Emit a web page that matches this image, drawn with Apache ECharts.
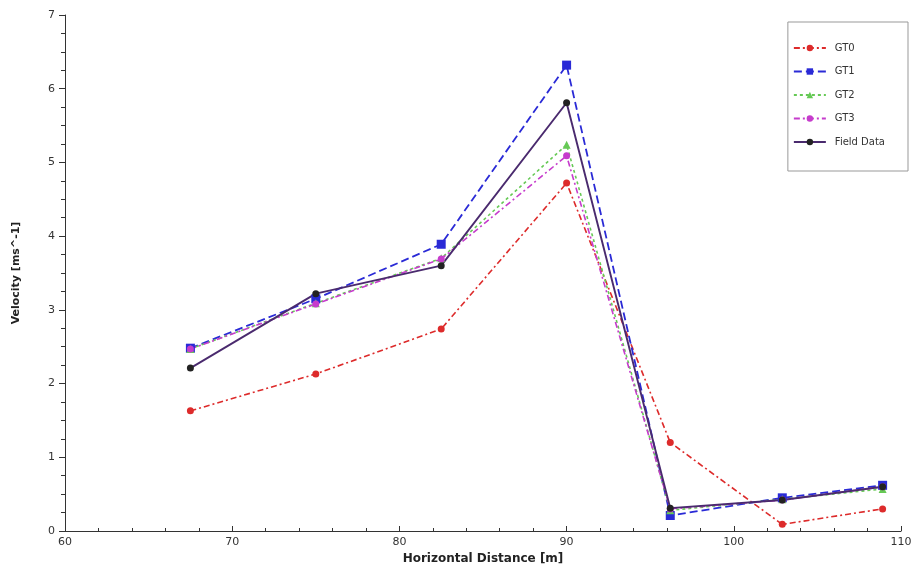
<!DOCTYPE html>
<html>
<head>
<meta charset="utf-8">
<script src="https://cdn.jsdelivr.net/npm/echarts@6/dist/echarts.min.js"></script>
<style>html,body{margin:0;padding:0;background:#fff}#c{width:917px;height:571px}</style>
</head>
<body>
<div id="c"></div>
<script>
var distances = [67.5, 75, 82.5, 90, 96.2, 102.9, 108.9];
var gt0 = [1.63, 2.13, 2.74, 4.72, 1.20, 0.09, 0.30];
var gt1 = [2.48, 3.15, 3.89, 6.32, 0.21, 0.45, 0.62];
var gt2 = [2.47, 3.09, 3.70, 5.24, 0.28, 0.43, 0.57];
var gt3 = [2.47, 3.08, 3.69, 5.09, 0.30, 0.42, 0.60];
var field = [2.21, 3.22, 3.60, 5.81, 0.31, 0.42, 0.60];
var names = ['GT0', 'GT1', 'GT2', 'GT3', 'Field Data'];

function pairs(v){ return distances.map(function(x,i){ return [x, v[i]]; }); }

var defs = [
  {name:names[0], data:gt0, color:'#dd2b2b', type:[6,3,2,3], symbol:'circle', size:7, width:1.6},
  {name:names[1], data:gt1, color:'#2a2ad6', type:[8,4], symbol:'rect', size:9, width:1.8},
  {name:names[2], data:gt2, color:'#66c955', type:[3,3], symbol:'triangle', size:8, width:1.6},
  {name:names[3], data:gt3, color:'#c63ccc', type:[6,3,2,3], symbol:'circle', size:7, width:1.6},
  {name:names[4], data:field, color:'#4a2a6e', type:'solid', symbol:'circle', size:7, width:1.9, markerColor:'#222222'}
];

var chart = echarts.init(document.getElementById('c'));
chart.setOption({
  backgroundColor:'#ffffff',
  animation:false,
  grid:{left:65, right:16, top:15, bottom:40},
  legend:{
    orient:'vertical', right:9, top:22,
    itemWidth:32, itemHeight:8, itemGap:13.5,
    padding:[21,23,24,5],
    borderColor:'#999', borderWidth:1,
    textStyle:{fontFamily:'DejaVu Sans', fontSize:10, color:'#333', padding:[0,0,0,4]},
    data:names
  },
  xAxis:{
    type:'value', min:60, max:110, interval:10,
    name:'Horizontal Distance [m]', nameLocation:'middle', nameGap:21,
    nameTextStyle:{fontFamily:'DejaVu Sans', fontWeight:'bold', fontSize:12, color:'#222'},
    axisLine:{lineStyle:{color:'#333', width:1}},
    axisTick:{inside:true, length:5, lineStyle:{color:'#333'}},
    minorTick:{show:true, splitNumber:5, length:3, lineStyle:{color:'#333'}},
    axisLabel:{fontFamily:'DejaVu Sans', fontSize:11, color:'#333', margin:6},
    splitLine:{show:false}
  },
  yAxis:{
    type:'value', min:0, max:7, interval:1,
    name:'Velocity [ms^-1]', nameLocation:'middle', nameGap:43, nameRotate:90,
    nameTextStyle:{fontFamily:'DejaVu Sans', fontWeight:'bold', fontSize:11, color:'#222'},
    axisLine:{show:true, lineStyle:{color:'#333', width:1}},
    axisTick:{show:true, length:6, lineStyle:{color:'#333'}},
    minorTick:{show:true, splitNumber:4, length:4, lineStyle:{color:'#333'}},
    axisLabel:{fontFamily:'DejaVu Sans', fontSize:11, color:'#333', margin:10},
    splitLine:{show:false}
  },
  series: defs.map(function(d){
    return {
      name:d.name, type:'line', data:pairs(d.data),
      symbol:d.symbol, symbolSize:d.size,
      itemStyle:{color:d.markerColor || d.color},
      lineStyle:{color:d.color, width:d.width, type:d.type},
      color:d.color
    };
  })
});
</script>
</body>
</html>
